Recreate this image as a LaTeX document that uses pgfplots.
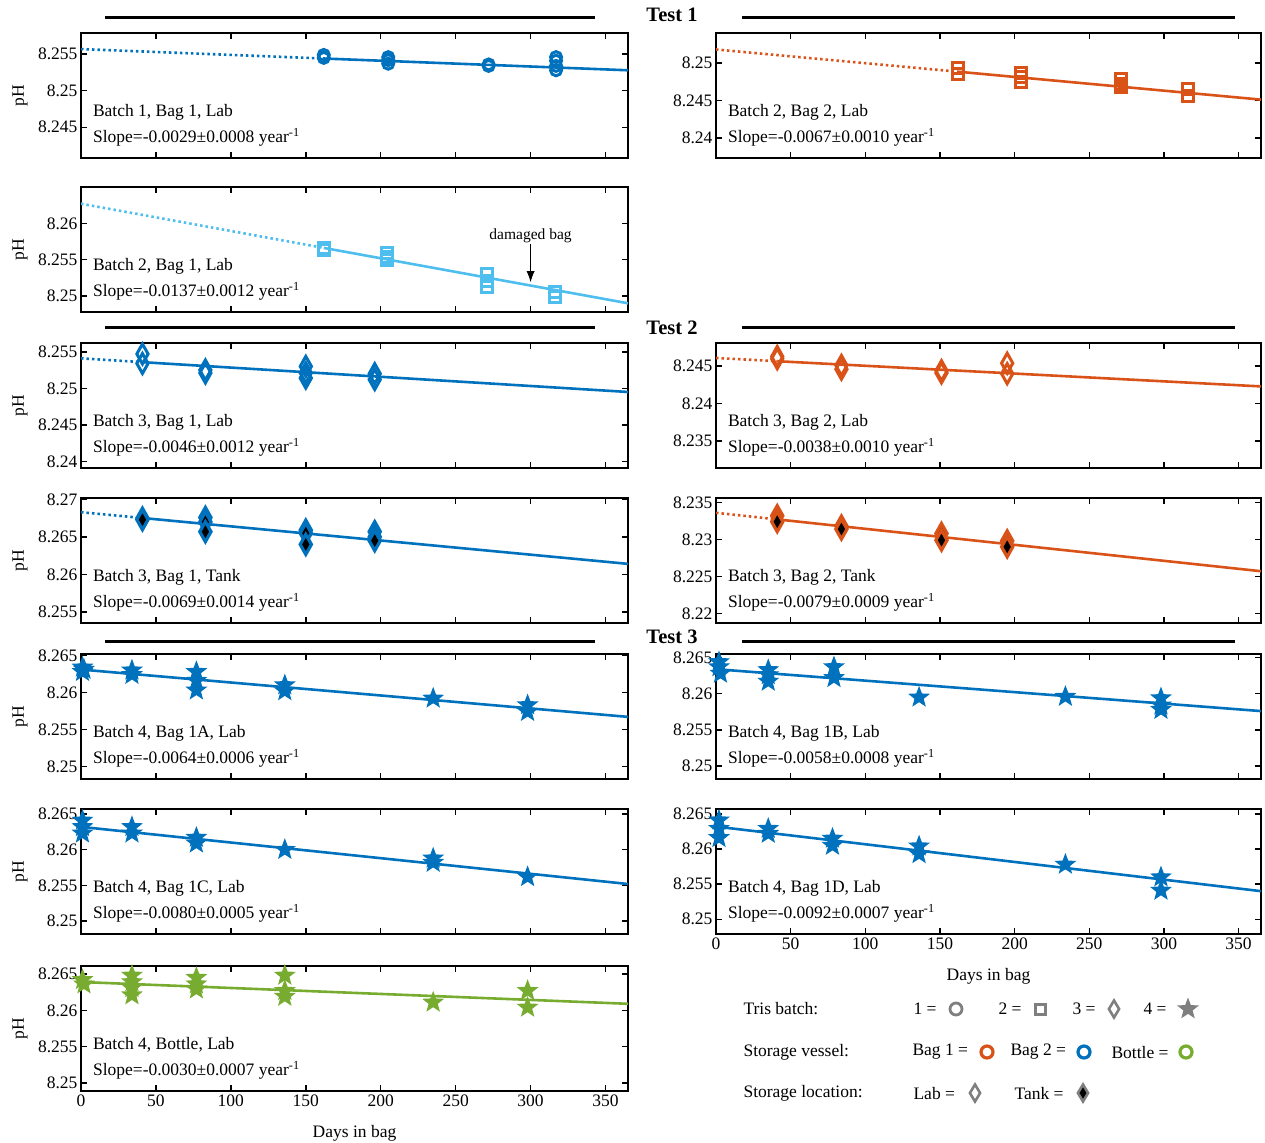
\documentclass[border=0pt]{standalone}
\usepackage{fontspec}
\setmainfont{Liberation Serif}
\usepackage{pgfplots}
\pgfplotsset{compat=1.18}
\usetikzlibrary{arrows.meta}
\definecolor{mblue}{HTML}{0072BD}
\definecolor{morange}{HTML}{D95319}
\definecolor{mgreen}{HTML}{77AC30}
\definecolor{mlblue}{HTML}{4DBEEE}
\definecolor{mgray}{HTML}{7F7F7F}
\newcommand\fs{\fontsize{17.5pt}{20pt}\selectfont}
\newcommand\fsb{\fontsize{20.5pt}{24pt}\selectfont\bfseries}
\newcommand\fss{\fontsize{15.5pt}{18pt}\selectfont}

\pgfdeclareplotmark{pstar}{%
  \pgfpathmoveto{\pgfpointpolar{90}{\pgfplotmarksize}}%
  \pgfpathlineto{\pgfpointpolar{126}{0.42\pgfplotmarksize}}%
  \pgfpathlineto{\pgfpointpolar{162}{\pgfplotmarksize}}%
  \pgfpathlineto{\pgfpointpolar{198}{0.42\pgfplotmarksize}}%
  \pgfpathlineto{\pgfpointpolar{234}{\pgfplotmarksize}}%
  \pgfpathlineto{\pgfpointpolar{270}{0.42\pgfplotmarksize}}%
  \pgfpathlineto{\pgfpointpolar{306}{\pgfplotmarksize}}%
  \pgfpathlineto{\pgfpointpolar{342}{0.42\pgfplotmarksize}}%
  \pgfpathlineto{\pgfpointpolar{18}{\pgfplotmarksize}}%
  \pgfpathlineto{\pgfpointpolar{54}{0.42\pgfplotmarksize}}%
  \pgfpathclose
  \pgfusepathqfillstroke
}

\pgfplotsset{
  panel/.style={
    scale only axis, width=547pt, height=125pt, anchor=north west,
    xmin=0, xmax=365, xtick={0,50,...,350}, xticklabels={},
    tick align=inside, xtick pos=both, ytick pos=both,
    xticklabel pos=left, yticklabel pos=left,
    major tick length=6pt,
    tick style={black, line width=1.5pt},
    axis line style={line width=2pt},
    tick label style={font=\fs},
    label style={font=\fs},
    /pgf/number format/assume math mode=true,
    yticklabel style={/pgf/number format/fixed, /pgf/number format/precision=3},
  },
  rpanel/.style={panel, width=545pt},
  leftp/.style={ylabel={pH}, ylabel style={at={(axis description cs:-0.1115,0.5)}, anchor=center}},
  bottomp/.style={xticklabels={0,50,100,150,200,250,300,350},
     xlabel={Days in bag}, xlabel style={at={(axis description cs:0.5,-0.335)}, anchor=center}},
  fitsolid/.style={line width=2.6pt, no marks},
  fitdot/.style={line width=2.6pt, no marks, dash pattern=on 2.5pt off 3pt},
  circ/.style={only marks, line width=3pt, mark=o, mark size=5.5pt, mark options={line width=3pt}},
  sq/.style={only marks, line width=3pt, mark=square, mark size=5.5pt, mark options={line width=3pt}},
  dia/.style={only marks, line width=3pt, mark=diamond, mark size=10pt, mark options={xscale=0.75, line width=3pt}},
  diat/.style={only marks, line width=3pt, mark=diamond*, mark size=10pt, mark options={xscale=0.75, fill=black, line width=3.2pt}},
  pst/.style={only marks, mark=pstar, mark size=9.5pt, mark options={fill=#1, draw=#1, line width=1.4pt}},
}

\newcommand\ann[2]{%
  \node[anchor=west, font=\fs, xshift=8.5pt, yshift=46pt] at (rel axis cs:0,0) {#1};
  \node[anchor=west, font=\fs, xshift=8.5pt, yshift=21pt] at (rel axis cs:0,0) {Slope=#2 year\textsuperscript{-1}};
}

\begin{document}
\begin{tikzpicture}
\path[use as bounding box] (0,0) rectangle (1265pt,-1142pt);

% headers
\draw[line width=3pt] (105pt,-18pt) -- (595pt,-18pt);
\draw[line width=3pt] (742pt,-18pt) -- (1235pt,-18pt);
\node[font=\fsb] at (672pt,-15pt) {Test 1};
\draw[line width=3pt] (105pt,-327pt) -- (595pt,-327pt);
\draw[line width=3pt] (742pt,-327pt) -- (1235pt,-327pt);
\node[font=\fsb] at (672pt,-328pt) {Test 2};
\draw[line width=3pt] (105pt,-641pt) -- (595pt,-641pt);
\draw[line width=3pt] (742pt,-641pt) -- (1235pt,-641pt);
\node[font=\fsb] at (672pt,-637pt) {Test 3};

% Row 1 left: Batch 1, Bag 1, Lab
\begin{axis}[panel, leftp, at={(81pt,-33pt)}, ymin=8.2408, ymax=8.2579, ytick={8.245,8.25,8.255}]
\addplot[fitdot, mblue] coordinates {(0,8.2557) (162,8.25441)};
\addplot[fitsolid, mblue] coordinates {(162,8.25441) (365,8.2528)};
\addplot[circ, mblue] coordinates {(162,8.2549) (162,8.2545) (205,8.2546) (205,8.2542) (205,8.2537) (272,8.2536) (272,8.2534) (317,8.2546) (317,8.2541) (317,8.2534) (317,8.2528)};
\ann{Batch 1, Bag 1, Lab}{-0.0029±0.0008}
\end{axis}

% Row 1 right: Batch 2, Bag 2, Lab
\begin{axis}[rpanel, at={(716pt,-33pt)}, ymin=8.2373, ymax=8.254, ytick={8.24,8.245,8.25}]
\addplot[fitdot, morange] coordinates {(0,8.2518) (162,8.24883)};
\addplot[fitsolid, morange] coordinates {(162,8.24883) (365,8.2451)};
\addplot[sq, morange] coordinates {(162,8.2493) (162,8.2485) (204,8.2487) (204,8.2481) (204,8.2475) (271,8.2478) (271,8.2472) (271,8.2468) (316,8.2465) (316,8.2456)};
\ann{Batch 2, Bag 2, Lab}{-0.0067±0.0010}
\end{axis}

% Row 2 left: Batch 2, Bag 1, Lab
\begin{axis}[panel, leftp, at={(81pt,-187pt)}, ymin=8.2478, ymax=8.265, ytick={8.25,8.255,8.26}]
\addplot[fitdot, mlblue] coordinates {(0,8.2627) (162,8.25662)};
\addplot[fitsolid, mlblue] coordinates {(162,8.25662) (365,8.2490)};
\addplot[sq, mlblue] coordinates {(162,8.2566) (162,8.2563) (204,8.2559) (204,8.2554) (204,8.2549) (271,8.2530) (271,8.2521) (271,8.2513) (316,8.2506) (316,8.2499)};
\ann{Batch 2, Bag 1, Lab}{-0.0137±0.0012}
\node[font=\fss] at (axis cs:300,8.2583) {damaged bag};
\draw[-{Latex[length=11pt,width=8pt]}, line width=0.8pt] (axis cs:300,8.2572) -- (axis cs:300,8.2519);
\end{axis}

% Row 3 left: Batch 3, Bag 1, Lab
\begin{axis}[panel, leftp, at={(81pt,-343pt)}, ymin=8.2391, ymax=8.2562, ytick={8.24,8.245,8.25,8.255}]
\addplot[fitdot, mblue] coordinates {(0,8.2541) (41,8.25358)};
\addplot[fitsolid, mblue] coordinates {(41,8.25358) (365,8.2495)};
\addplot[dia, mblue] coordinates {(41,8.2547) (41,8.2534) (83,8.2525) (83,8.2521) (150,8.2530) (150,8.2521) (150,8.2514) (196,8.2520) (196,8.2512)};
\ann{Batch 3, Bag 1, Lab}{-0.0046±0.0012}
\end{axis}

% Row 3 right: Batch 3, Bag 2, Lab
\begin{axis}[rpanel, at={(716pt,-343pt)}, ymin=8.2314, ymax=8.2481, ytick={8.235,8.24,8.245}]
\addplot[fitdot, morange] coordinates {(0,8.2461) (41,8.24567)};
\addplot[fitsolid, morange] coordinates {(41,8.24567) (365,8.2423)};
\addplot[dia, morange] coordinates {(41,8.2463) (41,8.2460) (84,8.2451) (84,8.2446) (151,8.2444) (151,8.2441) (195,8.2454) (195,8.2440)};
\ann{Batch 3, Bag 2, Lab}{-0.0038±0.0010}
\end{axis}

% Row 4 left: Batch 3, Bag 1, Tank
\begin{axis}[panel, leftp, at={(81pt,-498pt)}, ymin=8.2535, ymax=8.2702, ytick={8.255,8.26,8.265,8.27}]
\addplot[fitdot, mblue] coordinates {(0,8.2683) (41,8.26753)};
\addplot[fitsolid, mblue] coordinates {(41,8.26753) (365,8.2614)};
\addplot[diat, mblue] coordinates {(41,8.2675) (41,8.2673) (83,8.2676) (83,8.2670) (83,8.2657) (150,8.2659) (150,8.2655) (150,8.2640) (196,8.2657) (196,8.2650) (196,8.2645)};
\ann{Batch 3, Bag 1, Tank}{-0.0069±0.0014}
\end{axis}

% Row 4 right: Batch 3, Bag 2, Tank
\begin{axis}[rpanel, at={(716pt,-498pt)}, ymin=8.2187, ymax=8.2356, ytick={8.22,8.225,8.23,8.235}]
\addplot[fitdot, morange] coordinates {(0,8.2336) (41,8.23271)};
\addplot[fitsolid, morange] coordinates {(41,8.23271) (365,8.2257)};
\addplot[diat, morange] coordinates {(41,8.2332) (41,8.2324) (84,8.2318) (84,8.2314) (151,8.2308) (151,8.2299) (195,8.2298) (195,8.2290)};
\ann{Batch 3, Bag 2, Tank}{-0.0079±0.0009}
\end{axis}

% Row 5 left: Batch 4, Bag 1A
\begin{axis}[panel, leftp, at={(81pt,-654pt)}, ymin=8.2483, ymax=8.2652, ytick={8.25,8.255,8.26,8.265}]
\addplot[fitsolid, mblue] coordinates {(0,8.2631) (365,8.2567)};
\addplot[pst=mblue] coordinates {(1,8.2634) (1,8.2628) (2,8.2631) (34,8.2630) (34,8.2624) (77,8.2628) (77,8.2616) (77,8.2603) (136,8.2610) (136,8.2602) (235,8.2592) (298,8.2583) (298,8.2574)};
\ann{Batch 4, Bag 1A, Lab}{-0.0064±0.0006}
\end{axis}

% Row 5 right: Batch 4, Bag 1B
\begin{axis}[rpanel, at={(716pt,-654pt)}, ymin=8.2482, ymax=8.2655, ytick={8.25,8.255,8.26,8.265}]
\addplot[fitsolid, mblue] coordinates {(0,8.2634) (365,8.2576)};
\addplot[pst=mblue] coordinates {(2,8.2644) (2,8.2637) (3,8.2628) (35,8.2633) (35,8.2626) (35,8.2617) (79,8.2637) (79,8.2622) (136,8.2595) (234,8.2596) (298,8.2594) (298,8.2584) (298,8.2578)};
\ann{Batch 4, Bag 1B, Lab}{-0.0058±0.0008}
\end{axis}

% Row 6 left: Batch 4, Bag 1C
\begin{axis}[panel, leftp, at={(81pt,-809pt)}, ymin=8.2482, ymax=8.2657, ytick={8.25,8.255,8.26,8.265}]
\addplot[fitsolid, mblue] coordinates {(0,8.2632) (365,8.2552)};
\addplot[pst=mblue] coordinates {(1,8.2641) (1,8.2632) (1,8.2623) (34,8.2632) (34,8.2623) (77,8.2617) (77,8.2609) (136,8.2600) (235,8.2588) (235,8.2582) (298,8.2562)};
\ann{Batch 4, Bag 1C, Lab}{-0.0080±0.0005}
\end{axis}

% Row 6 right: Batch 4, Bag 1D
\begin{axis}[rpanel, bottomp, at={(716pt,-809pt)}, ymin=8.2479, ymax=8.2657, ytick={8.25,8.255,8.26,8.265}]
\addplot[fitsolid, mblue] coordinates {(0,8.2632) (365,8.2540)};
\addplot[pst=mblue] coordinates {(2,8.2641) (2,8.2629) (2,8.2616) (35,8.2629) (35,8.2622) (78,8.2615) (78,8.2605) (136,8.2604) (136,8.2593) (234,8.2578) (298,8.2560) (298,8.2541)};
\ann{Batch 4, Bag 1D, Lab}{-0.0092±0.0007}
\end{axis}

% Row 7 left: Batch 4, Bottle
\begin{axis}[panel, leftp, bottomp, at={(81pt,-966pt)}, ymin=8.2489, ymax=8.2661, ytick={8.25,8.255,8.26,8.265}]
\addplot[fitsolid, mgreen] coordinates {(0,8.2639) (365,8.2609)};
\addplot[pst=mgreen] coordinates {(1,8.2642) (2,8.2636) (34,8.2648) (34,8.2639) (34,8.2631) (34,8.2621) (77,8.2645) (77,8.2636) (77,8.2629) (136,8.2648) (136,8.2627) (136,8.2619) (235,8.2611) (298,8.2627) (298,8.2604)};
\ann{Batch 4, Bottle, Lab}{-0.0030±0.0007}
\end{axis}

% Legend
\begin{axis}[at={(700pt,-985pt)}, anchor=north west, scale only axis, width=565pt, height=157pt,
  xmin=700, xmax=1265, ymin=-1142, ymax=-985, hide axis, clip=false]
\node[anchor=west, font=\fs] at (axis cs:740,-1009) {Tris batch:};
\node[anchor=west, font=\fs] at (axis cs:910,-1009) {1 =};
\addplot[only marks, mark=o, mgray, mark size=6pt, line width=2.8pt, mark options={line width=2.8pt}] coordinates {(956,-1009)};
\node[anchor=west, font=\fs] at (axis cs:995,-1009) {2 =};
\addplot[only marks, mark=square, mgray, mark size=5pt, line width=3pt, mark options={line width=3pt}] coordinates {(1040,-1009)};
\node[anchor=west, font=\fs] at (axis cs:1069,-1009) {3 =};
\addplot[only marks, mark=diamond, mgray, mark size=8.5pt, line width=2.6pt, mark options={xscale=0.8, line width=2.6pt}] coordinates {(1114,-1009)};
\node[anchor=west, font=\fs] at (axis cs:1140,-1009) {4 =};
\addplot[pst=mgray] coordinates {(1188,-1009)};

\node[anchor=west, font=\fs] at (axis cs:740,-1052) {Storage vessel:};
\node[anchor=west, font=\fs] at (axis cs:909,-1052) {Bag 1 =};
\addplot[only marks, mark=o, morange, mark size=6pt, line width=3.2pt, mark options={line width=3.2pt}] coordinates {(987,-1052)};
\node[anchor=west, font=\fs] at (axis cs:1007,-1052) {Bag 2 =};
\addplot[only marks, mark=o, mblue, mark size=6pt, line width=3.2pt, mark options={line width=3.2pt}] coordinates {(1084,-1052)};
\node[anchor=west, font=\fs] at (axis cs:1108,-1052) {Bottle =};
\addplot[only marks, mark=o, mgreen, mark size=6pt, line width=3.2pt, mark options={line width=3.2pt}] coordinates {(1186,-1052)};

\node[anchor=west, font=\fs] at (axis cs:740,-1093) {Storage location:};
\node[anchor=west, font=\fs] at (axis cs:910,-1093) {Lab =};
\addplot[only marks, mark=diamond, mgray, mark size=8.5pt, line width=2.6pt, mark options={xscale=0.8, line width=2.6pt}] coordinates {(975,-1093)};
\node[anchor=west, font=\fs] at (axis cs:1011,-1093) {Tank =};
\addplot[only marks, mark=diamond*, mgray, mark size=8.5pt, line width=2.6pt, mark options={xscale=0.8, fill=black, line width=2.6pt}] coordinates {(1083,-1093)};
\end{axis}
\end{tikzpicture}
\end{document}
